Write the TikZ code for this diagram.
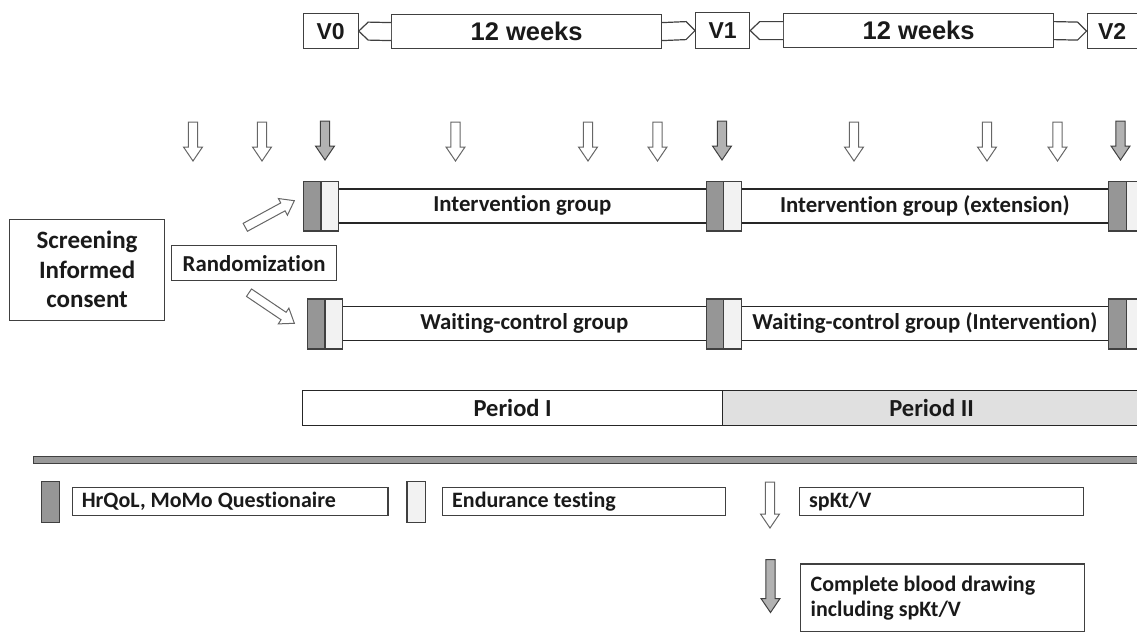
\documentclass[tikz,border=0pt]{standalone}
\usepackage{fontspec}
\setmainfont{Carlito}[Ligatures=NoCommon]
\newfontfamily\arialf{Liberation Sans}
\usetikzlibrary{calc}
\definecolor{blkdark}{RGB}{150,150,150}
\definecolor{blklight}{RGB}{242,242,242}
\definecolor{arrgray}{RGB}{178,178,178}
\definecolor{pertwo}{RGB}{224,224,224}
\definecolor{sepgray}{RGB}{153,153,153}
\definecolor{linecol}{RGB}{64,64,64}
\definecolor{txtcol}{RGB}{26,26,26}
\begin{document}
\begin{tikzpicture}[x=1pt,y=-1pt,
  every node/.style={text=txtcol},
  rbox/.style={draw=linecol, line width=1.2pt, fill=white, inner sep=0pt, anchor=north west},
  topbox/.style={rbox, font=\arialf\bfseries\fontsize{23}{26}\selectfont},
  weekbox/.style={rbox, font=\arialf\bfseries\fontsize{25.5}{28}\selectfont},
  barbox/.style={draw=black!85, line width=1.2pt, fill=white, inner sep=0pt, anchor=north west, font=\bfseries\fontsize{22.8}{26}\selectfont},
  perbox/.style={barbox, font=\bfseries\fontsize{24.5}{28}\selectfont},
  darkblk/.style={draw=linecol, line width=1.2pt, fill=blkdark, inner sep=0pt, anchor=north west},
  lightblk/.style={draw=linecol, line width=1.2pt, fill=blklight, inner sep=0pt, anchor=north west},
  legtxt/.style={inner sep=0pt, anchor=west, align=left, font=\bfseries\fontsize{22}{25}\selectfont},
  hollowarr/.style={draw=linecol!80, line width=1pt, fill=white},
  grayarr/.style={draw=linecol, line width=1pt, fill=arrgray},
  notch/.style={draw=linecol, line width=1.2pt, fill=white},
  pics/varr/.style={code={\path[pic actions] (-4.7,0) -- (4.7,0) -- (4.7,#1-14) -- (9.5,#1-14) -- (0,#1) -- (-9.5,#1-14) -- (-4.7,#1-14) -- cycle;}},
  pics/harr/.style={code={\path[pic actions] (0,-4.5) -- (#1-13,-4.5) -- (#1-13,-9.5) -- (#1,0) -- (#1-13,9.5) -- (#1-13,4.5) -- (0,4.5) -- cycle;}}
]
\useasboundingbox (0,0) rectangle (1137,632);
\clip (0,0) rectangle (1137,632);

% ---------- top timeline ----------
\node[topbox, minimum width=55, minimum height=35] (v0) at (302.5,13) {V0};
\node[weekbox, minimum width=270, minimum height=34] (w1) at (391,14) {12 weeks};
\node[topbox, minimum width=54, minimum height=36] (v1) at (695,12) {V1};
\node[weekbox, minimum width=270, minimum height=34] (w2) at (783,13) {12 weeks};
\node[topbox, minimum width=50, minimum height=35] (v2) at (1086.5,13) {V2};

\draw[notch] ($(w1.west)+(0,-9)$) -- ($(v0.east)+(9.5,-9)$) -- (v0.east) -- ($(v0.east)+(9.5,9)$) -- ($(w1.west)+(0,9)$);
\draw[notch] ($(w1.east)+(0,-9)$) -- ($(v1.west)+(-9,-9)$) -- (v1.west) -- ($(v1.west)+(-9,9)$) -- ($(w1.east)+(0,9)$);
\draw[notch] ($(w2.west)+(0,-9)$) -- ($(v1.east)+(9.5,-9)$) -- (v1.east) -- ($(v1.east)+(9.5,9)$) -- ($(w2.west)+(0,9)$);
\draw[notch] ($(w2.east)+(0,-9)$) -- ($(v2.west)+(-9,-9)$) -- (v2.west) -- ($(v2.west)+(-9,9)$) -- ($(w2.east)+(0,9)$);

% ---------- row of measurement arrows ----------
\foreach \xx in {193,262,455.5,588,657.5,854,987,1057.5}
  \pic[hollowarr] at (\xx,122) {varr=39};
\foreach \xx in {325,722,1120.5}
  \pic[grayarr] at (\xx,121) {varr=39};

% ---------- screening / randomization ----------
\node[rbox, minimum width=155, minimum height=101, align=center,
      font=\bfseries\fontsize{25}{29.5}\selectfont] (scr) at (9,218.5) {Screening\\Informed\\consent};
\node[rbox, minimum width=165, minimum height=35,
      font=\bfseries\fontsize{22.8}{26}\selectfont] (rand) at (171,245) {Randomization};

\pic[hollowarr, rotate=28.5] at (245.3,227.3) {harr=55.8};
\pic[hollowarr, rotate=-34] at (249,292.7) {harr=54.7};

% ---------- group bars ----------
\node[barbox, minimum width=368, minimum height=34] (ig1) at (337.7,188.3) {Intervention group};
\node[barbox, minimum width=367, minimum height=34] (ig2) at (740.7,188.3) {Intervention group (extension)};
\node[barbox, minimum width=364, minimum height=34.3] (wc1) at (341.7,305.7) {Waiting-control group};
\node[barbox, minimum width=367, minimum height=34.3] (wc2) at (740.7,305.7) {Waiting-control group (Intervention)};

% blocks on top bar
\node[darkblk, minimum width=17.6, minimum height=49.3] (a1d) at (302.7,181) {};
\node[lightblk, minimum width=17.4, minimum height=49.3] (a1l) at (320.3,181) {};
\node[darkblk, minimum width=17.3, minimum height=49.3] (a2d) at (705.7,181) {};
\node[lightblk, minimum width=17.7, minimum height=49.3] (a2l) at (723,181) {};
\node[darkblk, minimum width=18, minimum height=49.3] (a3d) at (1107.7,181) {};
\node[lightblk, minimum width=18, minimum height=49.3] (a3l) at (1125.7,181) {};
% blocks on lower bar
\node[darkblk, minimum width=17.6, minimum height=50] (b1d) at (306.7,298.3) {};
\node[lightblk, minimum width=17.4, minimum height=50] (b1l) at (324.3,298.3) {};
\node[darkblk, minimum width=17.3, minimum height=50] (b2d) at (705.7,298.3) {};
\node[lightblk, minimum width=17.7, minimum height=50] (b2l) at (723,298.3) {};
\node[darkblk, minimum width=18, minimum height=50] (b3d) at (1107.7,298.3) {};
\node[lightblk, minimum width=18, minimum height=50] (b3l) at (1125.7,298.3) {};

% ---------- periods ----------
\node[perbox, minimum width=420, minimum height=35] (p1) at (302,390) {Period I};
\node[perbox, fill=pertwo, minimum width=418, minimum height=35] (p2) at (722,390) {Period II};

% ---------- separator ----------
\node[draw=linecol, line width=1pt, fill=sepgray, inner sep=0pt, anchor=north west,
      minimum width=1120, minimum height=7] (sep) at (33,456) {};

% ---------- legend ----------
\node[darkblk, minimum width=17.5, minimum height=41] (ld) at (41,481) {};
\node[rbox, minimum width=315.7, minimum height=28] (lq) at (71.6,487) {};
\node[legtxt] (lqt) at ($(lq.west)+(10,0)$) {HrQoL, MoMo Questionaire};
\node[lightblk, minimum width=18.4, minimum height=41] (ll) at (406.4,481) {};
\node[rbox, minimum width=283, minimum height=28] (le) at (442,487) {};
\node[legtxt] (let) at ($(le.west)+(10,0)$) {Endurance testing};
\pic[hollowarr] at (770,482) {varr=46};
\node[rbox, minimum width=284, minimum height=28] (ls) at (799,487) {};
\node[legtxt] (lst) at ($(ls.west)+(10,0)$) {spKt/V};
\pic[grayarr] at (770.5,559.5) {varr=53};
\node[rbox, minimum width=284, minimum height=67.5] (lc) at (800,563.3) {};
\node[legtxt] (lct) at ($(lc.west)+(10.5,0)$) {Complete blood drawing\\including spKt/V};
\end{tikzpicture}
\end{document}
